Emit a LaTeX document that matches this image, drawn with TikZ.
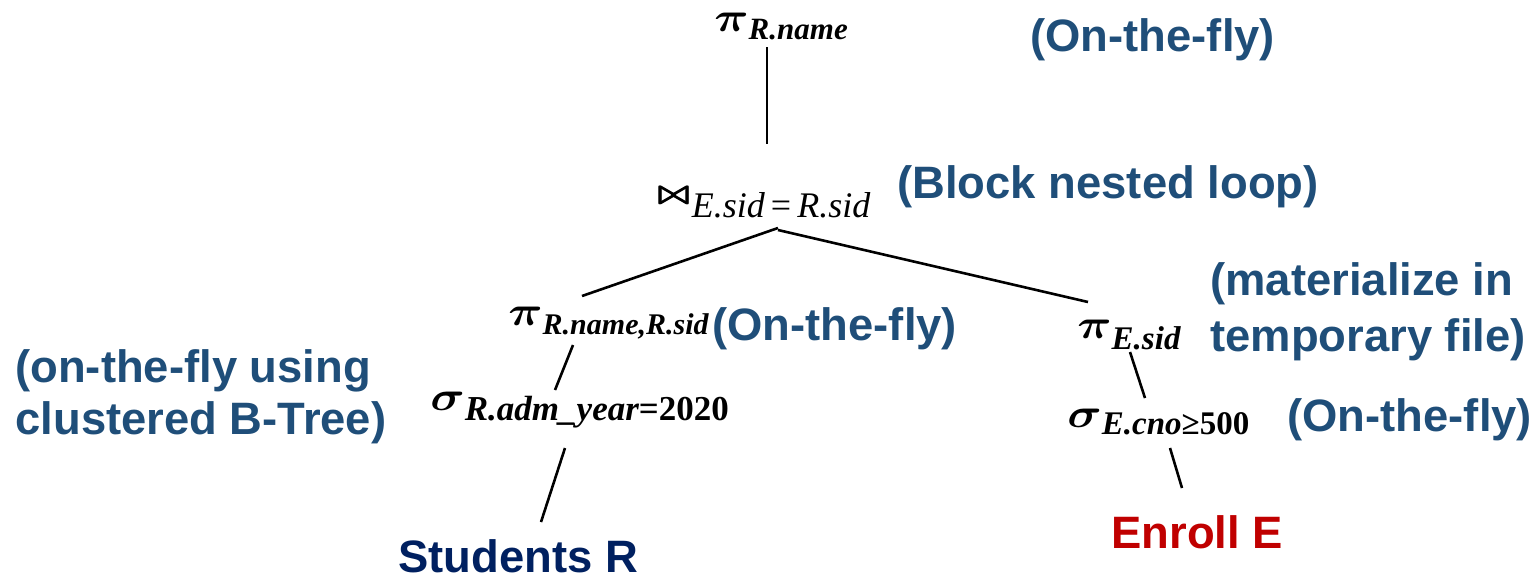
\documentclass[tikz,border=0pt]{standalone}
\usepackage{amsmath,amssymb}
\usepackage{graphicx}
\usepackage{fontspec}
\setmainfont{Liberation Sans}
\newfontfamily\subf{Liberation Serif}
\definecolor{annblue}{HTML}{1F4E79}
\definecolor{navy}{HTML}{002060}
\definecolor{darkred}{HTML}{C00000}
\newcommand{\osym}[1]{\scalebox{1.15}[1]{$\boldsymbol{#1}$}}
\newcommand{\osub}[3]{\raisebox{-#1}{\subf\fontsize{#2}{18}\selectfont #3}}
\newcommand{\bowbold}{\makebox[0pt][l]{$\bowtie$}\kern0.5pt\makebox[0pt][l]{$\bowtie$}\kern0.5pt$\bowtie$}
\tikzset{
  ann/.style={font=\fontsize{22.7}{28}\selectfont\bfseries, text=annblue, inner sep=0pt, align=left},
  rel/.style={font=\fontsize{22.7}{28}\selectfont\bfseries, inner sep=0pt},
  op/.style={font=\fontsize{20}{24}\selectfont\boldmath, inner sep=0pt},
  edge/.style={line width=1.3pt, black}
}
\begin{document}
\begin{tikzpicture}[x=0.5pt,y=-0.5pt]
\useasboundingbox (0,0) rectangle (1531,580);
% operators
\node[op, anchor=base west] (proot) at (714,31) {\osym{\pi}\osub{4pt}{15.5}{\itshape\bfseries R.name}};
\node[op, anchor=base west] (join) at (657,203) {\scalebox{0.78}{\bowbold}\kern1pt\osub{7pt}{18}{\itshape E.sid{\upshape\,=\,}R.sid}};
\node[op, anchor=base west] (pl) at (508,325) {\osym{\pi}\osub{4.5pt}{15}{\itshape\bfseries R.name,R.sid}};
\node[op, anchor=base west] (sl) at (430,410) {\osym{\sigma}\osub{5pt}{17.5}{\itshape\bfseries R.adm\_year{\upshape =2020}}};
\node[op, anchor=base west] (pr) at (1077,338) {\osym{\pi}\osub{5.5pt}{16.5}{\itshape\bfseries E.sid}};
\node[op, anchor=base west] (sr) at (1067,427) {\osym{\sigma}\osub{3.5pt}{16.5}{\itshape\bfseries E.cno{\upshape ≥500}}};
\node[rel, text=navy, anchor=base west] (stu) at (398,572) {Students R};
\node[rel, text=darkred, anchor=base west] (enr) at (1111,548) {Enroll E};
% annotations
\node[ann, anchor=base west] (a1) at (1030,51) {(On-the-fly)};
\node[ann, anchor=base west] (a2) at (897,198) {(Block nested loop)};
\node[ann, anchor=base west] (a3) at (712,340) {(On-the-fly)};
\node[ann, anchor=base west] (a4) at (1210,295) {(materialize in};
\node[ann, anchor=base west] (a4b) at (1210,351) {temporary file)};
\node[ann, anchor=base west] (a5) at (15,382) {(on-the-fly using};
\node[ann, anchor=base west] (a5b) at (15,434) {clustered B-Tree)};
\node[ann, anchor=base west] (a6) at (1287,431) {(On-the-fly)};
% connector end points
\coordinate (c1a) at (767,47);
\coordinate (c1b) at (767,144);
\coordinate (c2a) at (778,228);
\coordinate (c2b) at (582,296);
\coordinate (c3a) at (778,230);
\coordinate (c3b) at (1088,302);
\coordinate (c4a) at (573,345);
\coordinate (c4b) at (555,390);
\coordinate (c5a) at (565,448);
\coordinate (c5b) at (541,522);
\coordinate (c6a) at (1130,352);
\coordinate (c6b) at (1145,398);
\coordinate (c7a) at (1170,448);
\coordinate (c7b) at (1182,488);
\draw[edge] (c1a) -- (c1b);
\draw[edge] (c2a) -- (c2b);
\draw[edge] (c3a) -- (c3b);
\draw[edge] (c4a) -- (c4b);
\draw[edge] (c5a) -- (c5b);
\draw[edge] (c6a) -- (c6b);
\draw[edge] (c7a) -- (c7b);
\end{tikzpicture}
\end{document}
